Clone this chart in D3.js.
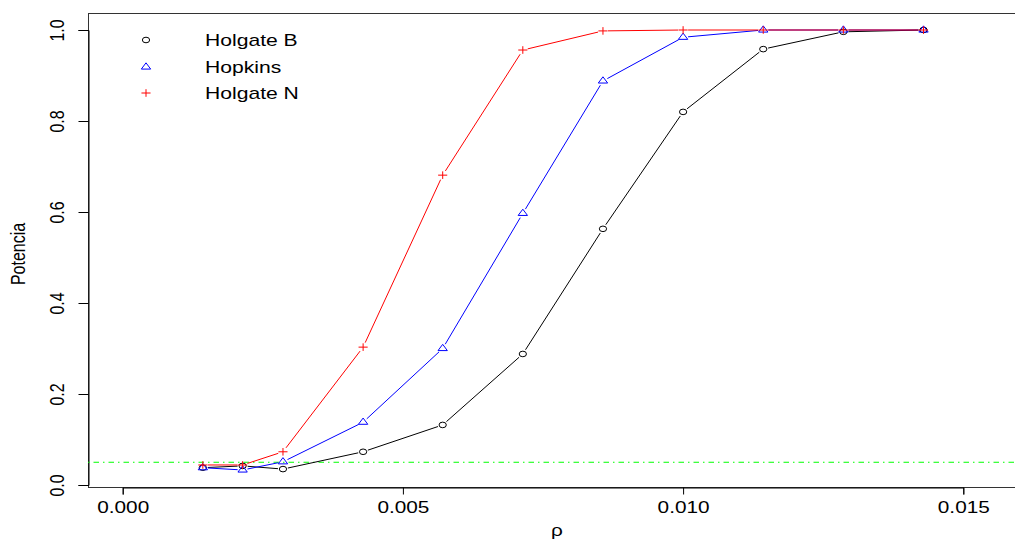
<!DOCTYPE html>
<html>
<head>
<meta charset="utf-8">
<script src="https://cdn.jsdelivr.net/npm/d3@7/dist/d3.min.js"></script>
<style>
  html, body { margin: 0; padding: 0; background: #fff; }
  svg { display: block; }
  text { font-family: "Liberation Sans", Arial, Helvetica, sans-serif; fill: #000; }
</style>
</head>
<body>
<svg id="chart" width="1015" height="544"></svg>
<script>
// ---- data ----
const rho = [0.00143, 0.00214, 0.00286, 0.00429, 0.00571, 0.00714, 0.00857, 0.01, 0.01143, 0.01286, 0.01429];
const holgateB = [0.038, 0.042, 0.035, 0.073, 0.132, 0.288, 0.563, 0.820, 0.958, 0.996, 1.000];
const hopkins  = [0.038, 0.033, 0.051, 0.138, 0.300, 0.597, 0.888, 0.984, 1.000, 1.000, 1.000];
const holgateN = [0.044, 0.044, 0.073, 0.303, 0.681, 0.956, 0.998, 1.000, 1.000, 1.000, 1.000];
const seriesNames = ["Holgate B", "Hopkins", "Holgate N"];
const seriesColors = ["#000000", "#0000ff", "#ff0000"];
const seriesSymbols = ["circle", "triangle", "plus"];
const xTicks = [0, 0.005, 0.010, 0.015];
const yTicks = [0, 0.2, 0.4, 0.6, 0.8, 1.0];
const refLevel = 0.05;
const xTitle = "ρ";
const yTitle = "Potencia";

// ---- layout ----
const SX = 1.3; // horizontal stretch of the original device
const svg = d3.select("#chart");
const box = { left: 88, right: 1026, top: 13, bottom: 487 };
const x = d3.scaleLinear().domain([0, 0.015]).range([122.7, 963.3]);
const y = d3.scaleLinear().domain([0, 1]).range([485, 30]);

// clip for plot region
svg.append("defs").append("clipPath").attr("id", "clip")
  .append("rect").attr("x", box.left).attr("y", box.top)
  .attr("width", box.right - box.left).attr("height", box.bottom - box.top);

// frame
svg.append("rect")
  .attr("x", box.left + 0.5).attr("y", box.top + 0.5)
  .attr("width", box.right - box.left).attr("height", box.bottom - box.top)
  .attr("fill", "none").attr("stroke", "#333").attr("stroke-width", 1);

// x axis
const xAxis = d3.axisBottom(x).tickValues(xTicks).tickSize(7).tickFormat(d3.format(".3f"));
const gx = svg.append("g").attr("transform", `translate(0,${box.bottom + 0.5})`).call(xAxis);
gx.select(".domain").attr("stroke", "#000");
gx.selectAll(".tick line").attr("stroke", "#000");
gx.selectAll(".tick text").remove();
gx.selectAll(".tick").append("text")
  .attr("text-anchor", "middle")
  .attr("transform", `translate(0,25) scale(${SX},1)`)
  .style("font-size", "16px")
  .text(d => d3.format(".3f")(d));

// y axis
const yAxis = d3.axisLeft(y).tickValues(yTicks).tickSize(10);
const gy = svg.append("g").attr("transform", `translate(${box.left + 0.5},0)`).call(yAxis);
gy.select(".domain").attr("stroke", "#000");
gy.selectAll(".tick line").attr("stroke", "#000");
gy.selectAll(".tick text").remove();
gy.selectAll(".tick").append("text")
  .attr("text-anchor", "middle")
  .attr("transform", `translate(-25,0) scale(${SX},1) rotate(-90)`)
  .style("font-size", "16px")
  .text(d => d3.format(".1f")(d));

// axis titles
svg.append("text")
  .attr("text-anchor", "middle")
  .attr("transform", `translate(${(box.left + box.right) / 2},536) scale(${SX},1)`)
  .style("font-size", "16px")
  .text(xTitle);
svg.append("text")
  .attr("text-anchor", "middle")
  .attr("transform", `translate(25,254) scale(${SX},1) rotate(-90)`)
  .style("font-size", "16px")
  .text(yTitle);

const plot = svg.append("g").attr("clip-path", "url(#clip)");

// reference line
plot.append("line")
  .attr("x1", box.left).attr("x2", box.right)
  .attr("y1", y(refLevel)).attr("y2", y(refLevel))
  .attr("stroke", "#00ff00").attr("stroke-width", 1)
  .attr("stroke-dasharray", "1.5,4,5.5,4");

// symbol drawing
function symbolPath(kind) {
  if (kind === "circle") return d3.symbol().type(d3.symbolCircle).size(Math.PI * 2.8 * 2.8)();
  if (kind === "triangle") {
    const s = 7.2, h = s * Math.sqrt(3) / 2;
    return `M0,${-h * 2 / 3}L${s / 2},${h / 3}L${-s / 2},${h / 3}Z`;
  }
  return "M-3.5,0L3.5,0M0,-3.8L0,3.8";
}
function drawSymbol(g, kind, color, px, py) {
  g.append("path")
    .attr("d", symbolPath(kind))
    .attr("transform", `translate(${px},${py}) scale(${SX},1)`)
    .attr("fill", "none").attr("stroke", color).attr("stroke-width", 1)
    .attr("vector-effect", "non-scaling-stroke");
}

// series (type = "b": lines with gaps around points)
const allSeries = [holgateB, hopkins, holgateN];
const GAP = 5;
allSeries.forEach((vals, si) => {
  const color = seriesColors[si];
  const g = plot.append("g");
  for (let i = 0; i < vals.length - 1; i++) {
    const x0 = x(rho[i]), y0 = y(vals[i]), x1 = x(rho[i + 1]), y1 = y(vals[i + 1]);
    const dx = x1 - x0, dy = y1 - y0, len = Math.hypot(dx, dy);
    if (len <= 2 * GAP) continue;
    const ux = dx / len, uy = dy / len;
    g.append("line")
      .attr("x1", x0 + ux * GAP).attr("y1", y0 + uy * GAP)
      .attr("x2", x1 - ux * GAP).attr("y2", y1 - uy * GAP)
      .attr("stroke", color).attr("stroke-width", 1);
  }
  vals.forEach((v, i) => drawSymbol(g, seriesSymbols[si], color, x(rho[i]), y(v)));
});

// legend
const legendRows = [40, 67, 93];
seriesNames.forEach((name, i) => {
  drawSymbol(svg, seriesSymbols[i], seriesColors[i], 146, legendRows[i]);
  svg.append("text")
    .attr("text-anchor", "start")
    .attr("transform", `translate(205,${legendRows[i] + 5.7}) scale(1.32,1)`)
    .style("font-size", "16px")
    .text(name);
});
</script>
</body>
</html>
